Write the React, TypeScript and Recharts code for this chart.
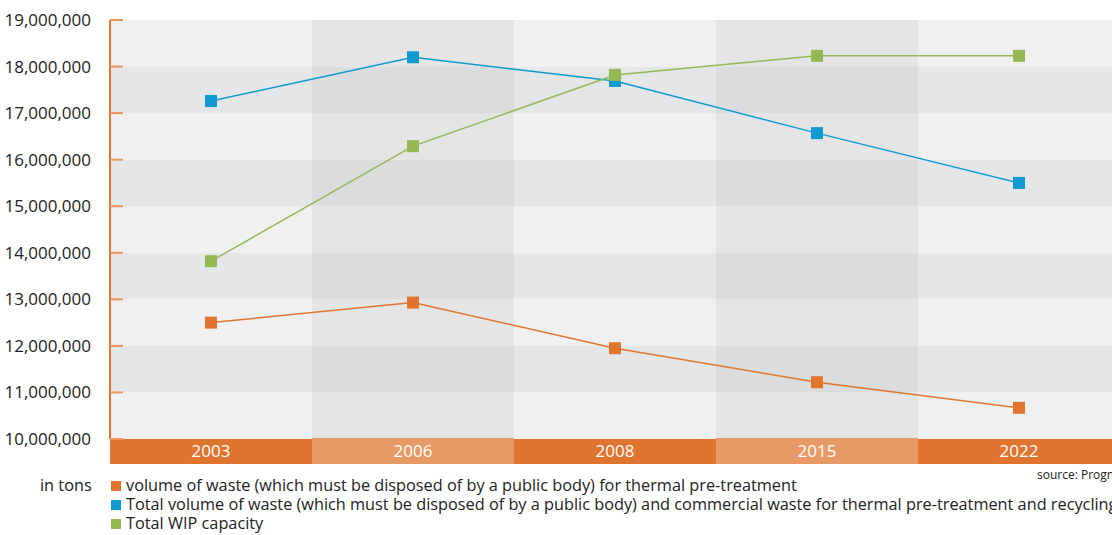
import { LineChart, Line, XAxis, YAxis, CartesianGrid, ReferenceArea } from 'recharts';

const years = ['2003', '2006', '2008', '2015', '2022'];
const publicWaste = [12500000, 12930000, 11950000, 11220000, 10670000];
const totalWaste = [17260000, 18200000, 17690000, 16570000, 15500000];
const wipCapacity = [13820000, 16290000, 17820000, 18230000, 18230000];
const yTicks = [10000000, 11000000, 12000000, 13000000, 14000000, 15000000, 16000000, 17000000, 18000000, 19000000];
const shadedYears = ['2006', '2015'];

const legendItems = [
  { label: 'volume of waste (which must be disposed of by a public body) for thermal pre-treatment', color: '#e07530' },
  { label: 'Total volume of waste (which must be disposed of by a public body) and commercial waste for thermal pre-treatment and recycling', color: '#0f9ad0' },
  { label: 'Total WIP capacity', color: '#94b853' },
];

const data = years.map((year, i) => ({
  year,
  publicWaste: publicWaste[i],
  totalWaste: totalWaste[i],
  wipCapacity: wipCapacity[i],
}));

const FONT = '"Open Sans", "Noto Sans", sans-serif';
const BAND = 202;

const SquareDot = (color: string) => (props: any) => {
  const { cx, cy } = props;
  if (cx == null || cy == null) return null;
  return <rect x={cx - 6} y={cy - 6} width={12} height={12} fill={color} />;
};

const YTick = (props: any) => {
  const { x, y, payload } = props;
  return (
    <g>
      <line x1={x} x2={x + 13} y1={y} y2={y} stroke="#e9955c" strokeWidth={2} />
      <text x={x - 19} y={y} dy={6} textAnchor="end" fill="#222" fontSize={17} fontFamily={FONT}>
        {payload.value.toLocaleString('en-US')}
      </text>
    </g>
  );
};

const XTick = (props: any) => {
  const { x, y, payload, index } = props;
  const even = index % 2 === 0;
  return (
    <g>
      <rect x={x - BAND / 2} y={even ? y : y - 1} width={BAND} height={even ? 25 : 26} fill={even ? '#e07530' : '#e89a66'} />
      <text x={x} y={y + 18} textAnchor="middle" fill="#fff" fontSize={17} fontFamily={FONT}>
        {payload.value}
      </text>
    </g>
  );
};

export default function App() {
  return (
    <div style={{ position: 'fixed', left: 0, top: 0, width: 1112, height: 535, overflow: 'hidden', background: '#fff', fontFamily: FONT }}>
      <LineChart width={1120} height={464} data={data} margin={{ top: 20, right: 0, bottom: 0, left: 0 }}>
        <CartesianGrid horizontal vertical={false} stroke="none" horizontalFill={['#f0f0f0', '#e5e6e7']} />
        {shadedYears.map((y) => (
          <ReferenceArea key={y} x1={y} x2={y} y1={10000000} y2={19000000} fill="#000" fillOpacity={0.045} stroke="none" />
        ))}
        <XAxis dataKey="year" scale="band" height={25} axisLine={false} tickLine={false} tickSize={0} tickMargin={0} tick={<XTick />} interval={0} />
        <YAxis
          width={110}
          domain={[10000000, 19000000]}
          ticks={yTicks}
          axisLine={{ stroke: '#e07530', strokeWidth: 2 }}
          tickLine={false}
          tickSize={0}
          tickMargin={0}
          tick={<YTick />}
          interval={0}
        />
        <Line dataKey="publicWaste" stroke="#e07530" strokeWidth={1.5} dot={SquareDot('#e07530')} isAnimationActive={false} />
        <Line dataKey="totalWaste" stroke="#0f9ad0" strokeWidth={1.5} dot={SquareDot('#0f9ad0')} isAnimationActive={false} />
        <Line dataKey="wipCapacity" stroke="#94b853" strokeWidth={1.5} dot={SquareDot('#94b853')} isAnimationActive={false} />
      </LineChart>
      <div style={{ position: 'absolute', left: 1037, top: 466, fontSize: 12, color: '#222', whiteSpace: 'nowrap' }}>
        source: Prognos
      </div>
      <div style={{ position: 'absolute', left: 40, top: 476, fontSize: 16.3, color: '#222', lineHeight: '19px' }}>
        in tons
      </div>
      <div style={{ position: 'absolute', left: 111, top: 476, fontSize: 16.3, color: '#222', lineHeight: '19px', whiteSpace: 'nowrap' }}>
        {legendItems.map((item) => (
          <div key={item.label} style={{ display: 'flex', alignItems: 'center' }}>
            <span style={{ display: 'inline-block', width: 10, height: 10, background: item.color, marginRight: 5 }} />
            <span>{item.label}</span>
          </div>
        ))}
      </div>
    </div>
  );
}
